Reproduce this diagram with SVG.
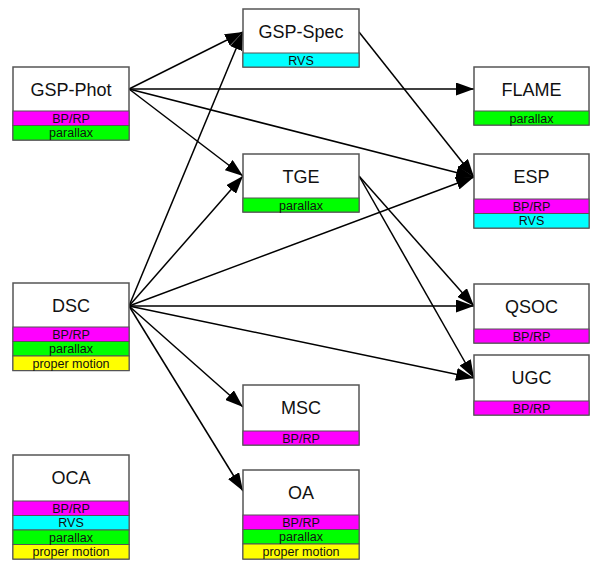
<svg xmlns="http://www.w3.org/2000/svg" width="600" height="570" viewBox="0 0 600 570">
<defs>
<marker id="ah" markerUnits="userSpaceOnUse" markerWidth="20" markerHeight="13" refX="18" refY="6.5" orient="auto"><path d="M0,0 L18,6.5 L0,13 Z" fill="#000"/></marker>
<style>
.box{fill:#fff;stroke:#555;stroke-width:1.5}
.b{stroke:#555;stroke-width:1}
.t{font-family:"Liberation Sans",Arial,sans-serif;font-size:18px;fill:#111;text-anchor:middle}
.s{font-family:"Liberation Sans",Arial,sans-serif;font-size:12.5px;fill:#111;text-anchor:middle}
.mg{fill:#ff00ff}.gr{fill:#00ff00}.cy{fill:#00ffff}.ye{fill:#ffff00}
.e{stroke:#000;stroke-width:1.5;fill:none;marker-end:url(#ah)}
</style>
</defs>
<rect width="600" height="570" fill="#fff"/>
<g id="connectors">
<line class="e" x1="129" y1="89" x2="243" y2="32"/>
<line class="e" x1="129" y1="89" x2="474" y2="89"/>
<line class="e" x1="129" y1="89" x2="474" y2="177"/>
<line class="e" x1="129" y1="89" x2="243" y2="176"/>
<line class="e" x1="359" y1="32" x2="474" y2="177"/>
<line class="e" x1="359" y1="176" x2="474" y2="306"/>
<line class="e" x1="359" y1="176" x2="474" y2="378"/>
<line class="e" x1="129" y1="306" x2="243" y2="32"/>
<line class="e" x1="129" y1="306" x2="243" y2="176"/>
<line class="e" x1="129" y1="306" x2="474" y2="177"/>
<line class="e" x1="129" y1="306" x2="474" y2="306"/>
<line class="e" x1="129" y1="306" x2="474" y2="378"/>
<line class="e" x1="129" y1="306" x2="243" y2="407"/>
<line class="e" x1="129" y1="306" x2="243" y2="491"/>
</g>
<g id="GSP-Phot">
<rect class="box" x="13" y="67" width="116" height="73"/>
<rect class="mg b" x="13" y="111" width="116" height="14.5"/>
<rect class="gr b" x="13" y="125.5" width="116" height="14.5"/>
<text class="t" x="71" y="96">GSP-Phot</text>
<text class="s" x="71" y="122.5">BP/RP</text>
<text class="s" x="71" y="137">parallax</text>
</g>
<g id="DSC">
<rect class="box" x="13" y="283" width="116" height="87.5"/>
<rect class="mg b" x="13" y="327" width="116" height="14.5"/>
<rect class="gr b" x="13" y="341.5" width="116" height="14.5"/>
<rect class="ye b" x="13" y="356" width="116" height="14.5"/>
<text class="t" x="71" y="312">DSC</text>
<text class="s" x="71" y="338.5">BP/RP</text>
<text class="s" x="71" y="353">parallax</text>
<text class="s" x="71" y="367.5">proper motion</text>
</g>
<g id="OCA">
<rect class="box" x="13" y="455" width="116" height="104"/>
<rect class="mg b" x="13" y="501" width="116" height="14.5"/>
<rect class="cy b" x="13" y="515.5" width="116" height="14.5"/>
<rect class="gr b" x="13" y="530" width="116" height="14.5"/>
<rect class="ye b" x="13" y="544.5" width="116" height="14.5"/>
<text class="t" x="71" y="484">OCA</text>
<text class="s" x="71" y="512.5">BP/RP</text>
<text class="s" x="71" y="527">RVS</text>
<text class="s" x="71" y="541.5">parallax</text>
<text class="s" x="71" y="556">proper motion</text>
</g>
<g id="GSP-Spec">
<rect class="box" x="243" y="9" width="116" height="58"/>
<rect class="cy b" x="243" y="53" width="116" height="14"/>
<text class="t" x="301" y="38">GSP-Spec</text>
<text class="s" x="301" y="64.5">RVS</text>
</g>
<g id="TGE">
<rect class="box" x="243" y="154" width="116" height="58"/>
<rect class="gr b" x="243" y="198" width="116" height="14"/>
<text class="t" x="301" y="183">TGE</text>
<text class="s" x="301" y="209.5">parallax</text>
</g>
<g id="MSC">
<rect class="box" x="243" y="385" width="116" height="60"/>
<rect class="mg b" x="243" y="431" width="116" height="14"/>
<text class="t" x="301" y="414">MSC</text>
<text class="s" x="301" y="442.5">BP/RP</text>
</g>
<g id="OA">
<rect class="box" x="243" y="470" width="116" height="89"/>
<rect class="mg b" x="243" y="515" width="116" height="14.5"/>
<rect class="gr b" x="243" y="529.5" width="116" height="14.5"/>
<rect class="ye b" x="243" y="544" width="116" height="15"/>
<text class="t" x="301" y="499">OA</text>
<text class="s" x="301" y="526.5">BP/RP</text>
<text class="s" x="301" y="541">parallax</text>
<text class="s" x="301" y="556">proper motion</text>
</g>
<g id="FLAME">
<rect class="box" x="474" y="67" width="115" height="58"/>
<rect class="gr b" x="474" y="111" width="115" height="14"/>
<text class="t" x="531.5" y="96">FLAME</text>
<text class="s" x="531.5" y="122.5">parallax</text>
</g>
<g id="ESP">
<rect class="box" x="474" y="154" width="115" height="74"/>
<rect class="mg b" x="474" y="199" width="115" height="14.5"/>
<rect class="cy b" x="474" y="213.5" width="115" height="14.5"/>
<text class="t" x="531.5" y="183">ESP</text>
<text class="s" x="531.5" y="210.5">BP/RP</text>
<text class="s" x="531.5" y="225">RVS</text>
</g>
<g id="QSOC">
<rect class="box" x="474" y="284" width="115" height="59"/>
<rect class="mg b" x="474" y="329" width="115" height="14"/>
<text class="t" x="531.5" y="313">QSOC</text>
<text class="s" x="531.5" y="340.5">BP/RP</text>
</g>
<g id="UGC">
<rect class="box" x="474" y="355" width="115" height="60"/>
<rect class="mg b" x="474" y="401" width="115" height="14"/>
<text class="t" x="531.5" y="384">UGC</text>
<text class="s" x="531.5" y="412.5">BP/RP</text>
</g>
</svg>
